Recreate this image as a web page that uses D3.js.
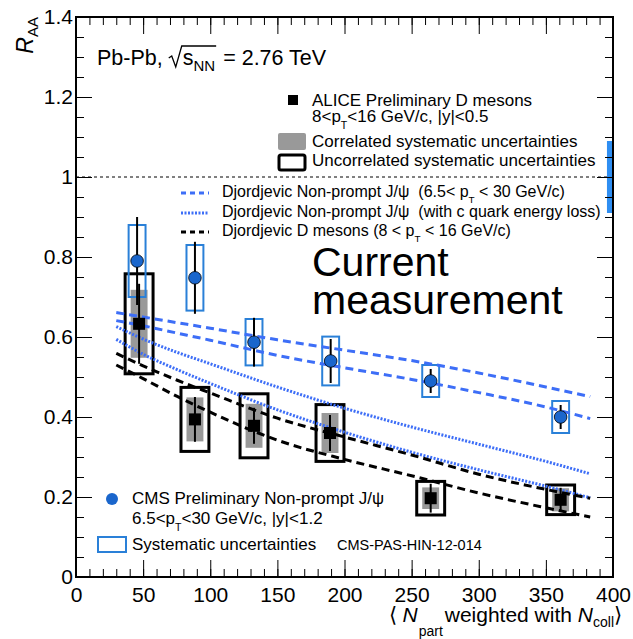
<!DOCTYPE html>
<html>
<head>
<meta charset="utf-8">
<script src="https://cdn.jsdelivr.net/npm/d3@7"></script>
<style>
  body { margin: 0; background: #fff; }
  text { font-family: "Liberation Sans", Arial, Helvetica, sans-serif; white-space: pre; }
</style>
</head>
<body>
<div id="viz"></div>
<script>
// CMS non-prompt J/psi
var npartJpsi = [45.5, 88.6, 132.6, 189.7, 264.2, 361];
var raaJpsi   = [0.79, 0.748, 0.587, 0.54, 0.49, 0.40];
var statJpsi  = [0.11, 0.09, 0.061, 0.055, 0.03, 0.03];
var systJpsi  = [0.09, 0.082, 0.058, 0.061, 0.04, 0.04];

// ALICE D mesons
var npartD  = [47, 88.6, 132.6, 189.2, 264.2, 361];
var raaD    = [0.633, 0.394, 0.378, 0.36, 0.197, 0.193];
var statD   = [0.10, 0.056, 0.045, 0.045, 0.036, 0.03];
var corrD   = [0.085, 0.055, 0.055, 0.05, 0.027, 0.029];
var uncorrD = [0.125, 0.08, 0.08, 0.071, 0.042, 0.037];

// global normalisation uncertainty (blue band at R_AA = 1)
var normUnc = 0.09;

// Djordjevic model curves
var curveX      = [30, 50, 75, 100, 150, 200, 250, 300, 350, 383];
var jpsiDashHi  = [0.661, 0.650, 0.636, 0.622, 0.593, 0.567, 0.541, 0.51, 0.475, 0.451];
var jpsiDashLo  = [0.641, 0.628, 0.61, 0.592, 0.554, 0.523, 0.494, 0.461, 0.425, 0.396];
var jpsiDotHi   = [0.626, 0.595, 0.562, 0.533, 0.475, 0.422, 0.375, 0.332, 0.289, 0.258];
var jpsiDotLo   = [0.594, 0.557, 0.519, 0.484, 0.418, 0.362, 0.312, 0.268, 0.227, 0.198];
var dDashHi     = [0.559, 0.528, 0.4925, 0.46, 0.397, 0.35, 0.305, 0.257, 0.219, 0.197];
var dDashLo     = [0.53, 0.496, 0.452, 0.412, 0.342, 0.294, 0.253, 0.21, 0.173, 0.150];

var xTicks = d3.range(0, 401, 50);
var yTicks = d3.range(0, 1.41, 0.2);

var width = 633, height = 639;
var margin = {top: 17, right: 20, bottom: 62, left: 76};

var blue = "#1a66cc", boxBlue = "#2a80d8", lineBlue = "#3d6ef7";

var svg = d3.select("#viz").append("svg")
  .attr("width", width)
  .attr("height", height);

var x = d3.scaleLinear().domain([0, 400]).range([margin.left, width - margin.right]);
var y = d3.scaleLinear().domain([0, 1.4]).range([height - margin.bottom, margin.top]);

// reference line at 1
svg.append("line")
  .attr("x1", x(0)).attr("x2", x(400))
  .attr("y1", y(1)).attr("y2", y(1))
  .attr("stroke", "#000").attr("stroke-width", 1)
  .attr("stroke-dasharray", "3,3");

// normalisation band
svg.append("rect")
  .attr("x", x(395.5)).attr("width", x(400) - x(395.5))
  .attr("y", y(1 + normUnc)).attr("height", y(1 - normUnc) - y(1 + normUnc))
  .attr("fill", "#2e8ef2");

var D = npartD.map(function(n, i) {
  return {x: n, y: raaD[i], stat: statD[i], corr: corrD[i], unc: uncorrD[i]};
});
var J = npartJpsi.map(function(n, i) {
  return {x: n, y: raaJpsi[i], stat: statJpsi[i], syst: systJpsi[i]};
});

var grayHalf = 6.3, blackHalf = 10.4, blueHalf = 6.3;

// correlated syst (gray)
svg.append("g").selectAll("rect")
  .data(D).join("rect")
  .attr("x", d => x(d.x - grayHalf))
  .attr("width", d => x(d.x + grayHalf) - x(d.x - grayHalf))
  .attr("y", d => y(d.y + d.corr))
  .attr("height", d => y(d.y - d.corr) - y(d.y + d.corr))
  .attr("fill", "#999");

// uncorrelated syst (black boxes)
svg.append("g").selectAll("rect")
  .data(D).join("rect")
  .attr("x", d => x(d.x - blackHalf))
  .attr("width", d => x(d.x + blackHalf) - x(d.x - blackHalf))
  .attr("y", d => y(d.y + d.unc))
  .attr("height", d => y(d.y - d.unc) - y(d.y + d.unc))
  .attr("fill", "none").attr("stroke", "#000").attr("stroke-width", 3);

// CMS syst boxes
svg.append("g").selectAll("rect")
  .data(J).join("rect")
  .attr("x", d => x(d.x - blueHalf))
  .attr("width", d => x(d.x + blueHalf) - x(d.x - blueHalf))
  .attr("y", d => y(d.y + d.syst))
  .attr("height", d => y(d.y - d.syst) - y(d.y + d.syst))
  .attr("fill", "none").attr("stroke", boxBlue).attr("stroke-width", 2);

// model curves
var line = d3.line()
  .x(d => x(d[0]))
  .y(d => y(d[1]))
  .curve(d3.curveMonotoneX);

function drawCurve(vals, color, dash, w) {
  svg.append("path")
    .datum(curveX.map((c, i) => [c, vals[i]]))
    .attr("d", line)
    .attr("fill", "none")
    .attr("stroke", color)
    .attr("stroke-width", w)
    .attr("stroke-dasharray", dash);
}
drawCurve(jpsiDashHi, lineBlue, "8,5", 3);
drawCurve(jpsiDashLo, lineBlue, "8,5", 3);
drawCurve(jpsiDotHi, lineBlue, "2,1.5", 3);
drawCurve(jpsiDotLo, lineBlue, "2,1.5", 3);
drawCurve(dDashHi, "#000", "8,5", 3);
drawCurve(dDashLo, "#000", "8,5", 3);

// stat error bars
svg.append("g").selectAll("line")
  .data(D.concat(J)).join("line")
  .attr("x1", d => x(d.x)).attr("x2", d => x(d.x))
  .attr("y1", d => y(d.y + d.stat)).attr("y2", d => y(d.y - d.stat))
  .attr("stroke", "#000").attr("stroke-width", 2);

// markers
svg.append("g").selectAll("rect")
  .data(D).join("rect")
  .attr("x", d => x(d.x) - 6).attr("y", d => y(d.y) - 6)
  .attr("width", 12).attr("height", 12)
  .attr("fill", "#000");

svg.append("g").selectAll("circle")
  .data(J).join("circle")
  .attr("cx", d => x(d.x)).attr("cy", d => y(d.y))
  .attr("r", 6.3)
  .attr("fill", blue).attr("stroke", "#000").attr("stroke-width", 0.8);

// axes, ROOT style: ticks inside, on all four sides
var fmt = d3.format("~g");
function styleAxis(g) {
  g.select(".domain").remove();
  g.selectAll("line").attr("stroke", "#000");
  g.attr("font-size", 21);
}
svg.append("g")
  .attr("transform", "translate(0," + y(0) + ")")
  .call(d3.axisBottom(x).tickValues(xTicks).tickSizeInner(-17).tickPadding(10).tickFormat(fmt))
  .call(styleAxis);
svg.append("g")
  .attr("transform", "translate(0," + y(0) + ")")
  .call(d3.axisBottom(x).tickValues(d3.range(0, 401, 10)).tickSizeInner(-8).tickFormat(""))
  .call(styleAxis);
svg.append("g")
  .attr("transform", "translate(0," + y(1.4) + ")")
  .call(d3.axisTop(x).tickValues(xTicks).tickSizeInner(-17).tickFormat(""))
  .call(styleAxis);
svg.append("g")
  .attr("transform", "translate(0," + y(1.4) + ")")
  .call(d3.axisTop(x).tickValues(d3.range(0, 401, 10)).tickSizeInner(-8).tickFormat(""))
  .call(styleAxis);
svg.append("g")
  .attr("transform", "translate(" + x(0) + ",0)")
  .call(d3.axisLeft(y).tickValues(yTicks).tickSizeInner(-16).tickPadding(3).tickFormat(fmt))
  .call(styleAxis);
svg.append("g")
  .attr("transform", "translate(" + x(0) + ",0)")
  .call(d3.axisLeft(y).tickValues(d3.range(0, 1.41, 0.05)).tickSizeInner(-8).tickFormat(""))
  .call(styleAxis);
svg.append("g")
  .attr("transform", "translate(" + x(400) + ",0)")
  .call(d3.axisRight(y).tickValues(yTicks).tickSizeInner(-16).tickFormat(""))
  .call(styleAxis);
svg.append("g")
  .attr("transform", "translate(" + x(400) + ",0)")
  .call(d3.axisRight(y).tickValues(d3.range(0, 1.41, 0.05)).tickSizeInner(-8).tickFormat(""))
  .call(styleAxis);

svg.append("rect")
  .attr("x", x(0)).attr("y", y(1.4))
  .attr("width", x(400) - x(0)).attr("height", y(0) - y(1.4))
  .attr("fill", "none").attr("stroke", "#000").attr("stroke-width", 2);

// axis titles
var yt = svg.append("text")
  .attr("transform", "translate(33," + y(1.4) + ") rotate(-90)")
  .attr("text-anchor", "end")
  .attr("font-size", 23);
yt.append("tspan").attr("font-style", "italic").text("R");
yt.append("tspan").attr("font-size", 15).attr("dy", 5).text("AA");

var xt = svg.append("text").attr("x", 622).attr("y", 622).attr("font-size", 21)
  .attr("text-anchor", "end");
xt.append("tspan").text("\u27e8 ");
xt.append("tspan").attr("font-style", "italic").text("N");
xt.append("tspan").attr("font-size", 14).attr("dy", 14).attr("dx", 1).text("part");
xt.append("tspan").attr("dy", -14).attr("dx", -4).text(" weighted with ");
xt.append("tspan").attr("font-style", "italic").text("N");
xt.append("tspan").attr("font-size", 14).attr("dy", 5).text("coll");
xt.append("tspan").attr("dy", -5).text("\u27e9");

// Pb-Pb label with square root
var base = 65, px0 = 97;
var t1 = svg.append("text").attr("x", px0).attr("y", base).attr("font-size", 21.5).text("Pb-Pb,");
var w1 = t1.node().getComputedTextLength();
var rx = px0 + w1 + 6;
var ts = svg.append("text").attr("x", rx + 14).attr("y", base).attr("font-size", 21.5);
ts.append("tspan").text("s");
ts.append("tspan").attr("font-size", 15).attr("dy", 6).text("NN");
var ws = ts.node().getComputedTextLength();
svg.append("path")
  .attr("d", "M" + rx + "," + (base - 7) + " l3,-2 l4,11 l6,-21 H" + (rx + 14 + ws + 1))
  .attr("fill", "none").attr("stroke", "#000").attr("stroke-width", 1.3);
svg.append("text").attr("x", rx + 14 + ws + 8).attr("y", base).attr("font-size", 21.5).text("= 2.76 TeV");

// big annotation
svg.append("text").attr("x", 312).attr("y", 276).attr("font-size", 41).text("Current");
svg.append("text").attr("x", 312).attr("y", 314).attr("font-size", 41).text("measurement");

// helper for text with a subscript T
function ptText(tx, ty, fs, before, after) {
  var t = svg.append("text").attr("x", tx).attr("y", ty).attr("font-size", fs);
  t.append("tspan").text(before);
  t.append("tspan").attr("font-size", fs * 0.62).attr("dy", fs * 0.4).text("T");
  t.append("tspan").attr("dy", -fs * 0.4).text(after);
  return t;
}

// ALICE legend
svg.append("rect").attr("x", 288).attr("y", 95).attr("width", 10).attr("height", 10).attr("fill", "#000");
svg.append("text").attr("x", 312).attr("y", 106).attr("font-size", 17).text("ALICE Preliminary D mesons");
ptText(312, 122, 17, "8<p", "<16 GeV/c, |y|<0.5");
svg.append("rect").attr("x", 278).attr("y", 133).attr("width", 28).attr("height", 17).attr("rx", 2).attr("fill", "#999");
svg.append("text").attr("x", 312).attr("y", 147).attr("font-size", 17).text("Correlated systematic uncertainties");
svg.append("rect").attr("x", 279).attr("y", 155).attr("width", 26).attr("height", 15).attr("rx", 2)
  .attr("fill", "none").attr("stroke", "#000").attr("stroke-width", 3);
svg.append("text").attr("x", 312).attr("y", 166).attr("font-size", 17).text("Uncorrelated systematic uncertainties");

// model legend
var models = [
  {yy: 193, color: lineBlue, dash: "5,4", a: "Djordjevic Non-prompt J/\u03c8  (6.5< p", b: " < 30 GeV/c)"},
  {yy: 213, color: lineBlue, dash: "2,1.5", a: "Djordjevic Non-prompt J/\u03c8  (with c quark energy loss)", b: null},
  {yy: 232, color: "#000", dash: "5,4", a: "Djordjevic D mesons (8 < p", b: " < 16 GeV/c)"}
];
models.forEach(function(m) {
  svg.append("line").attr("x1", 181).attr("x2", 209).attr("y1", m.yy).attr("y2", m.yy)
    .attr("stroke", m.color).attr("stroke-width", 3).attr("stroke-dasharray", m.dash);
  if (m.b) ptText(222, m.yy + 4, 16, m.a, m.b);
  else svg.append("text").attr("x", 222).attr("y", m.yy + 4).attr("font-size", 16).text(m.a);
});

// CMS legend
svg.append("circle").attr("cx", 112).attr("cy", 499).attr("r", 6).attr("fill", blue);
svg.append("text").attr("x", 132).attr("y", 504).attr("font-size", 17).text("CMS Preliminary Non-prompt J/\u03c8");
ptText(132, 524, 17, "6.5<p", "<30 GeV/c, |y|<1.2");
svg.append("rect").attr("x", 98).attr("y", 537).attr("width", 28).attr("height", 15)
  .attr("fill", "none").attr("stroke", boxBlue).attr("stroke-width", 2);
svg.append("text").attr("x", 132).attr("y", 550).attr("font-size", 17).text("Systematic uncertainties");
svg.append("text").attr("x", 337).attr("y", 550).attr("font-size", 14.5).text("CMS-PAS-HIN-12-014");
</script>
</body>
</html>
